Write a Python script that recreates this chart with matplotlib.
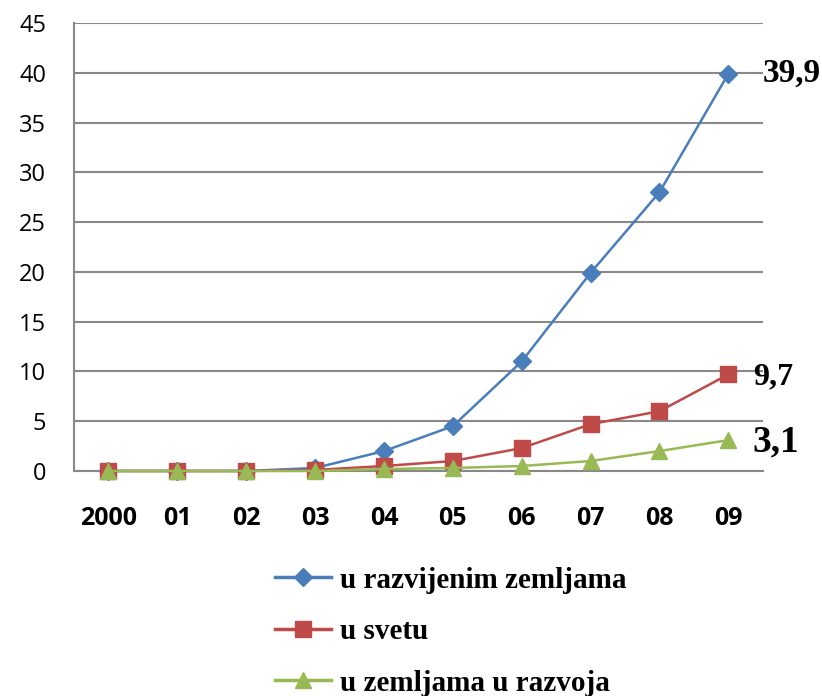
import numpy as np
import matplotlib.pyplot as plt

years = ["2000", "01", "02", "03", "04", "05", "06", "07", "08", "09"]
razvijene = [0, 0, 0, 0.3, 2.0, 4.5, 11.0, 19.9, 28.0, 39.9]
svet = [0, 0, 0, 0.1, 0.5, 1.0, 2.3, 4.7, 6.0, 9.7]
u_razvoju = [0, 0, 0, 0, 0.2, 0.3, 0.5, 1.0, 2.0, 3.1]
labels = ["u razvijenim zemljama", "u svetu", "u zemljama u razvoja"]
end_labels = ["39,9", "9,7", "3,1"]

fig = plt.figure(figsize=(8.22, 6.96), dpi=100)
ax = fig.add_axes([0.09, 0.3233, 0.838, 0.6437])

x = np.arange(len(years))
l1, = ax.plot(x, razvijene, color="#4A7EBB", lw=1.8, marker="D", ms=9,
              label=labels[0], clip_on=False, zorder=3)
l2, = ax.plot(x, svet, color="#BE4B48", lw=1.8, marker="s", ms=11,
              label=labels[1], clip_on=False, zorder=4)
l3, = ax.plot(x, u_razvoju, color="#98B954", lw=1.8, marker="^", ms=11,
              label=labels[2], clip_on=False, zorder=5)

ax.set_xlim(-0.5, len(years) - 0.5)
ax.set_ylim(0, 45)
ax.set_yticks(np.arange(0, 46, 5))
ax.set_xticks(x)
ax.set_xticklabels(years, fontfamily="Open Sans", fontweight="bold", fontsize=18)
for t in ax.get_yticklabels():
    t.set_fontfamily("Open Sans")
    t.set_fontsize(17)
ax.tick_params(axis="y", length=0, pad=20)
ax.tick_params(axis="x", length=0, pad=25)

ax.grid(axis="y", color="#888888", lw=1.5)
ax.set_axisbelow(True)
for s in ["top", "right"]:
    ax.spines[s].set_visible(False)
for s in ["left", "bottom"]:
    ax.spines[s].set_color("#888888")
    ax.spines[s].set_linewidth(1.5)

# end labels
offsets = [(34, 0), (25, -2), (24, -2)]
sizes = [24, 23, 27]
for vals, txt, off, fs in zip([razvijene, svet, u_razvoju], end_labels, offsets, sizes):
    ax.annotate(txt, (x[-1], vals[-1]), xytext=off, textcoords="offset pixels",
                ha="left", va="center", fontfamily="Liberation Serif",
                fontweight="bold", fontsize=fs, annotation_clip=False)

leg = fig.legend(handles=[l1, l2, l3], loc="upper left", bbox_to_anchor=(0.335, 0.186),
                 frameon=False, prop={"family": "Liberation Serif", "weight": "bold", "size": 21},
                 handlelength=1.9, handletextpad=0.3, labelspacing=0.84, borderaxespad=0,
                 borderpad=0)
for h in leg.legend_handles:
    h.set_linewidth(2.5)

fig.savefig("out.png", dpi=100)
